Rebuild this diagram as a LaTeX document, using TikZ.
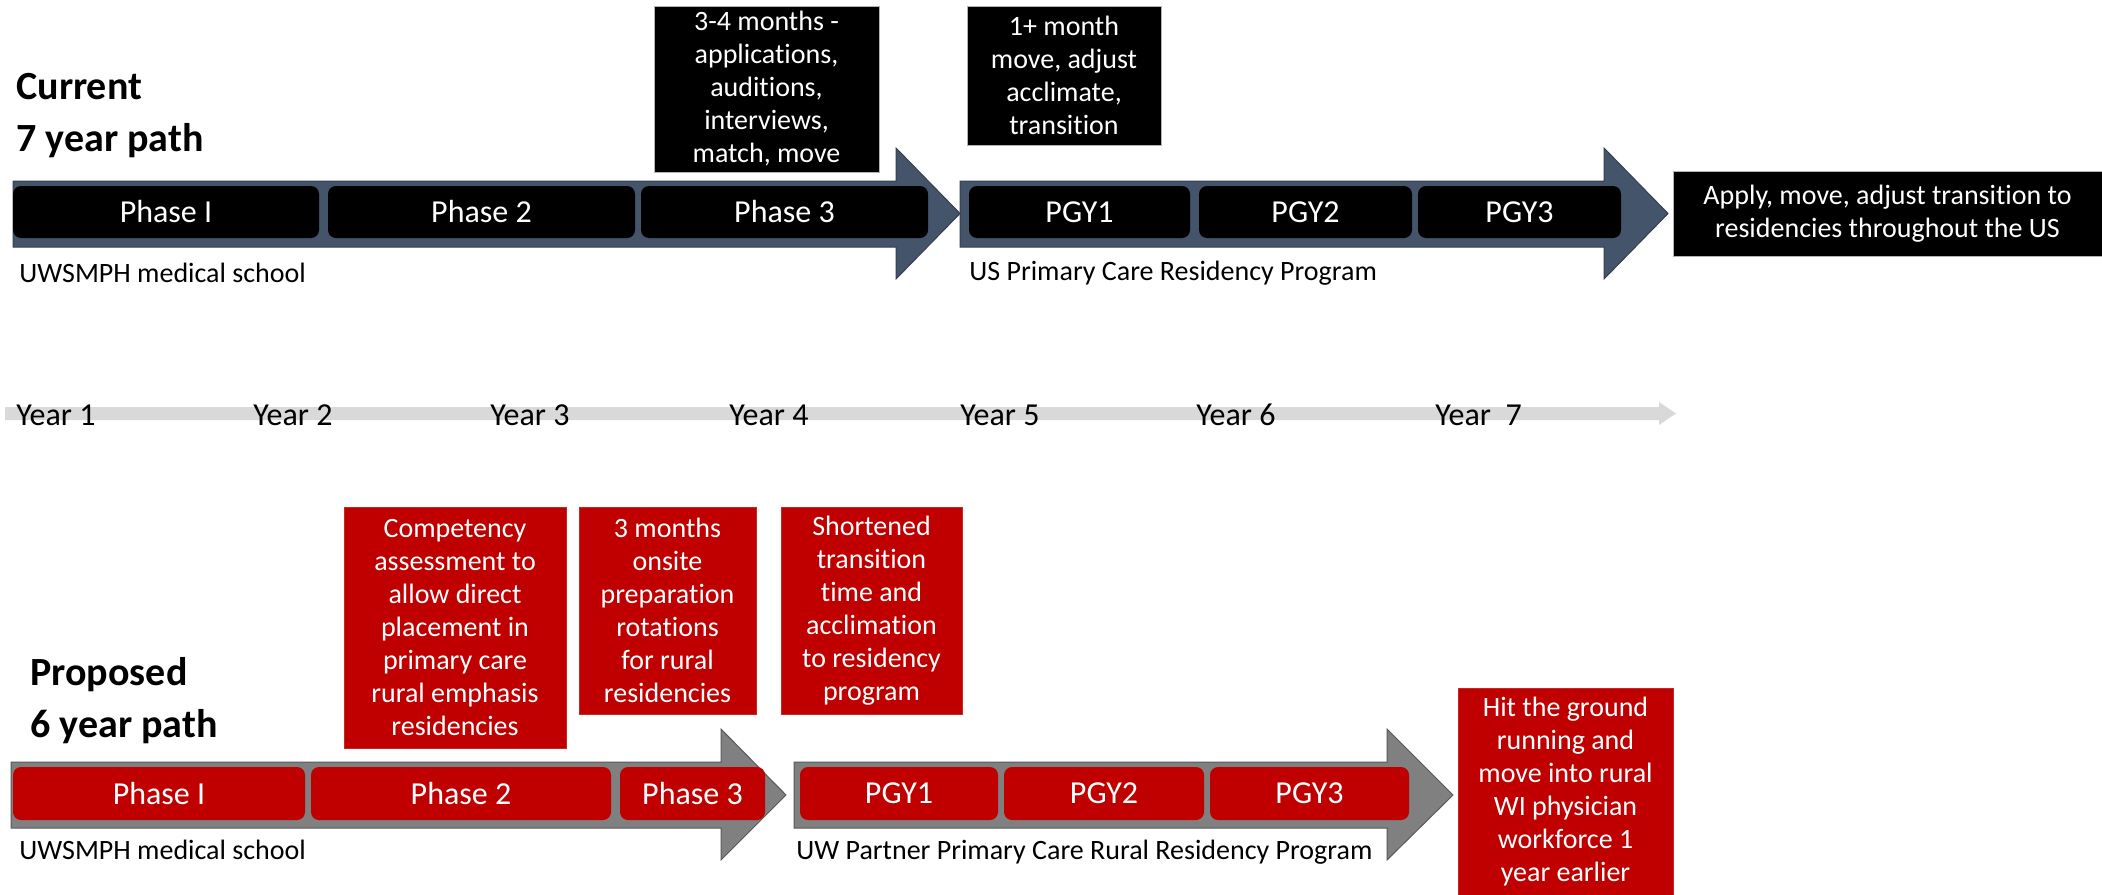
\documentclass[tikz,border=0pt]{standalone}
\usepackage{fontspec}
\setmainfont{Carlito}[Ligatures=NoCommon]
\definecolor{navy}{HTML}{44546A}
\definecolor{navyedge}{HTML}{35404F}
\definecolor{redbox}{HTML}{C00000}
\definecolor{grayarrow}{HTML}{808080}
\definecolor{grayedge}{HTML}{595959}
\definecolor{yearline}{HTML}{D9D9D9}
\begin{document}
\begin{tikzpicture}[x=0.5pt,y=-0.5pt,
  phasebox/.style={rectangle,rounded corners=4pt,fill=black,text=white,
    font=\fontsize{16}{19}\selectfont,inner sep=0pt,minimum height=26pt},
  redphase/.style={phasebox,fill=redbox},
  callout/.style={rectangle,fill=black,draw=gray!60,line width=0.4pt,text=white,
    font=\fontsize{14}{16.5}\selectfont,align=center,inner sep=0pt},
  redcallout/.style={callout,fill=redbox,draw=redbox!85!white},
  smalllabel/.style={font=\fontsize{14}{16.5}\selectfont,anchor=west,inner sep=0pt},
  yearlabel/.style={font=\fontsize{16}{19}\selectfont,anchor=base west,inner sep=0pt},
  titletext/.style={font=\fontsize{20}{26}\bfseries\selectfont,anchor=base west,inner sep=0pt,align=left},
  navyarrow/.style={fill=navy,draw=navyedge,line width=0.5pt},
  grayblock/.style={fill=grayarrow,draw=grayedge,line width=0.5pt}
]
\useasboundingbox (0,0) rectangle (2102,894);

% ---------- current path ----------
\node[titletext] (curtitle) at (16,151) {Current\\7 year path};

\draw[navyarrow] (13,181) -- (896,181) -- (896,148) -- (960,213.5) -- (896,279) -- (896,247) -- (13,247) -- cycle;
\draw[navyarrow] (960,181) -- (1604,181) -- (1604,148) -- (1668,213.5) -- (1604,279) -- (1604,247) -- (960,247) -- cycle;

\node[phasebox,minimum width=153pt] (cp1) at (166,212) {Phase I};
\node[phasebox,minimum width=153.5pt] (cp2) at (481.5,212) {Phase 2};
\node[phasebox,minimum width=143.5pt] (cp3) at (784.5,212) {Phase 3};
\node[phasebox,minimum width=110.5pt] (cg1) at (1079.5,212) {PGY1};
\node[phasebox,minimum width=106.5pt] (cg2) at (1305.5,212) {PGY2};
\node[phasebox,minimum width=101.5pt] (cg3) at (1519.5,212) {PGY3};

\node[callout,minimum width=112.5pt,minimum height=83pt] (ca) at (766.5,89)
  {3-4 months -\\applications,\\auditions,\\interviews,\\match, move};
\node[callout,minimum width=97pt,minimum height=69.5pt] (cb) at (1064,75.5)
  {1+ month\\move, adjust\\acclimate,\\transition};
\node[callout,minimum width=214.5pt,minimum height=42.5pt] (cfin) at (1887.5,213.5)
  {Apply, move, adjust transition to\\residencies throughout the US};

\node[smalllabel] (cschool) at (19,273) {UWSMPH medical school};
\node[smalllabel] (cres) at (969,273) {US Primary Care Residency Program};

% ---------- year line ----------
\fill[yearline] (5,407) -- (1659,407) -- (1659,402) -- (1676,413.5) -- (1659,425) -- (1659,420) -- (5,420) -- cycle;
\node[yearlabel] (y1) at (16,425) {Year 1};
\node[yearlabel] (y2) at (253,425) {Year 2};
\node[yearlabel] (y3) at (490,425) {Year 3};
\node[yearlabel] (y4) at (729,425) {Year 4};
\node[yearlabel] (y5) at (960,425) {Year 5};
\node[yearlabel] (y6) at (1196,425) {Year 6};
\node[yearlabel] (y7) at (1435,425) {Year\ \ 7};

% ---------- proposed path ----------
\node[titletext] (protitle) at (30,737) {Proposed\\6 year path};

\draw[grayblock] (11,762) -- (721,762) -- (721,729) -- (786,795) -- (721,860) -- (721,828) -- (11,828) -- cycle;
\draw[grayblock] (794,762) -- (1387,762) -- (1387,729) -- (1453,795) -- (1387,860) -- (1387,828) -- (794,828) -- cycle;

\node[redphase,minimum width=146pt,minimum height=26.5pt] (pp1) at (159,793.5) {Phase I};
\node[redphase,minimum width=150pt,minimum height=26.5pt] (pp2) at (461,793.5) {Phase 2};
\node[redphase,minimum width=72.5pt,minimum height=26.5pt] (pp3) at (692.5,793.5) {Phase 3};
\node[redphase,minimum width=99pt,minimum height=26.5pt] (pg1) at (899,793.5) {PGY1};
\node[redphase,minimum width=100pt,minimum height=26.5pt] (pg2) at (1104,793.5) {PGY2};
\node[redphase,minimum width=99.5pt,minimum height=26.5pt] (pg3) at (1309.5,793.5) {PGY3};

\node[redcallout,minimum width=111pt,minimum height=120.5pt] (rc1) at (455,627.5)
  {Competency\\assessment to\\allow direct\\placement in\\primary care\\rural emphasis\\residencies};
\node[redcallout,minimum width=88.5pt,minimum height=103.5pt] (rc2) at (667.5,610.5)
  {3 months\\onsite\\preparation\\rotations\\for rural\\residencies};
\node[redcallout,minimum width=90.5pt,minimum height=103.5pt] (rc3) at (871.5,610.5)
  {Shortened\\transition\\time and\\acclimation\\to residency\\program};
\node[redcallout,minimum width=107.5pt,minimum height=103.5pt] (rfin) at (1565.5,791.5)
  {Hit the ground\\running and\\move into rural\\WI physician\\workforce 1\\year earlier};

\node[smalllabel] (pschool) at (19,850) {UWSMPH medical school};
\node[smalllabel] (pres) at (796,852) {UW Partner Primary Care Rural Residency Program};
\end{tikzpicture}
\end{document}
